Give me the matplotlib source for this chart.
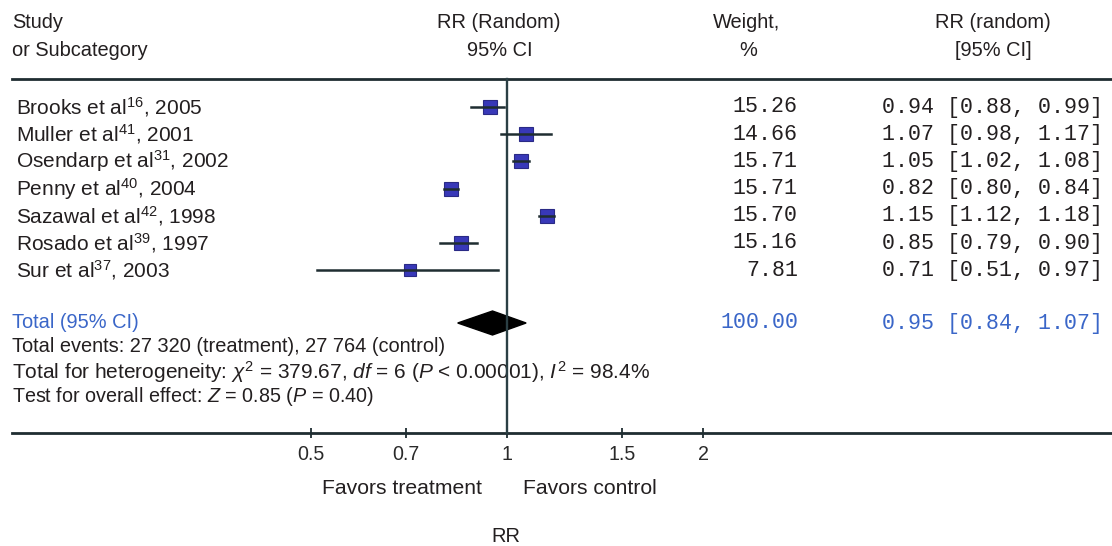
import numpy as np
import matplotlib
matplotlib.use("Agg")
import matplotlib.pyplot as plt
from matplotlib.patches import Polygon

# ── Data ─────────────────────────────────────────────────────────────────────
authors = ["Brooks", "Muller", "Osendarp", "Penny", "Sazawal", "Rosado", "Sur"]
refs = ["16", "41", "31", "40", "42", "39", "37"]
years = ["2005", "2001", "2002", "2004", "1998", "1997", "2003"]
rr = [0.94, 1.07, 1.05, 0.82, 1.15, 0.85, 0.71]
ci_lo = [0.88, 0.98, 1.02, 0.80, 1.12, 0.79, 0.51]
ci_hi = [0.99, 1.17, 1.08, 0.84, 1.18, 0.90, 0.97]
weights = [15.26, 14.66, 15.71, 15.71, 15.70, 15.16, 7.81]

total_rr = 0.95
total_lo = 0.84
total_hi = 1.07
total_weight = 100.00

xticks = [0.5, 0.7, 1, 1.5, 2]
xtick_labels = ["0.5", "0.7", "1", "1.5", "2"]

# ── Layout (pixels) ──────────────────────────────────────────────────────────
W, H = 1112, 546
X_ONE = 507          # pixel x of RR = 1
K = 282.8            # pixels per ln unit
ROW0, DROW = 107, 27.2
Y_TOP_LINE, Y_AXIS = 79, 433
Y_TOTAL = 323

DARK = "#231f20"
LINE = "#1f2d31"
BLUE = "#3a66c8"
SQ_FILL = "#3838b8"
SQ_EDGE = "#2a2a85"

plt.rcParams.update({
    "font.family": ["Liberation Sans", "DejaVu Sans"],
    "mathtext.fontset": "custom",
    "mathtext.rm": "Liberation Sans",
    "mathtext.it": "Liberation Sans:italic",
    "mathtext.bf": "Liberation Sans:bold",
})
SANS = 14.4
MONO = 15.6


def px2rr(x):
    return np.exp((x - X_ONE) / K)


fig = plt.figure(figsize=(W / 100, H / 100), dpi=100)
ax = fig.add_axes([0, 0, 1, 1])
ax.set_xscale("log")
ax.set_xlim(px2rr(0), px2rr(W))
ax.set_ylim(H, 0)
for s in ["top", "left", "right"]:
    ax.spines[s].set_visible(False)
ax.set_yticks([])
ax.minorticks_off()

# x axis drawn as the bottom spine, moved up
ax.spines["bottom"].set_position(("data", Y_AXIS))
ax.spines["bottom"].set_bounds(px2rr(12), px2rr(W))
ax.spines["bottom"].set_linewidth(2.0)
ax.spines["bottom"].set_color(LINE)
ax.set_xticks(xticks)
ax.set_xticklabels(xtick_labels)
ax.tick_params(axis="x", direction="inout", length=7, width=1.3, color=LINE,
               labelsize=SANS - 0.3, labelcolor="#2a2a2a", pad=5)
ax.xaxis.set_minor_locator(matplotlib.ticker.NullLocator())

# header line and vertical line of no effect
ax.axhline(Y_TOP_LINE, xmin=12 / W, xmax=1, color=LINE, lw=2.0)
ax.plot([1, 1], [Y_TOP_LINE, Y_AXIS], color="#2b3f44", lw=1.7, zorder=4)

T = ax.get_yaxis_transform()  # x in axes fraction, y in pixels


def txt(x, y, s, **kw):
    kw.setdefault("fontsize", SANS)
    kw.setdefault("color", DARK)
    kw.setdefault("va", "center")
    ax.text(x / W, y, s, transform=T, **kw)


# headers
txt(12, 23, "Study")
txt(12, 50, "or Subcategory")
txt(499, 23, "RR (Random)", ha="center")
txt(500, 50, "95% CI", ha="center")
txt(747, 23, "Weight,", ha="center")
txt(748, 50, "%", ha="center")
txt(993, 23, "RR (random)", ha="center")
txt(993, 50, "[95% CI]", ha="center")

# studies
w_max = max(weights)
for i, (a, r, yr) in enumerate(zip(authors, refs, years)):
    y = ROW0 + i * DROW
    txt(16, y, f"{a} et al$^{{{r}}}$, {yr}", fontsize=15.0)
    ms = 9.8 * (weights[i] / w_max) ** 0.25
    ax.plot(rr[i], y, marker="s", ms=ms, mfc=SQ_FILL, mec=SQ_EDGE, mew=0.8,
            zorder=3)
    ax.plot([ci_lo[i], ci_hi[i]], [y, y], color=LINE, lw=1.8, zorder=5)
    txt(798, y, f"{weights[i]:.2f}", ha="right", family="Liberation Mono",
        fontsize=MONO)
    txt(1103, y, f"{rr[i]:.2f} [{ci_lo[i]:.2f}, {ci_hi[i]:.2f}]", ha="right",
        family="Liberation Mono", fontsize=MONO)

# pooled estimate
dh = 12
diamond = Polygon([(total_lo, Y_TOTAL), (total_rr, Y_TOTAL - dh),
                   (total_hi, Y_TOTAL), (total_rr, Y_TOTAL + dh)],
                  closed=True, fc="black", ec="black", zorder=3)
ax.add_patch(diamond)
txt(12, Y_TOTAL - 1, "Total (95% CI)", color=BLUE)
txt(798, Y_TOTAL, f"{total_weight:.2f}", ha="right", family="Liberation Mono",
    fontsize=MONO, color=BLUE)
txt(1103, Y_TOTAL, f"{total_rr:.2f} [{total_lo:.2f}, {total_hi:.2f}]",
    ha="right", family="Liberation Mono", fontsize=MONO, color=BLUE)

txt(12, 347, "Total events: 27 320 (treatment), 27 764 (control)")
txt(12, 372, r"Total for heterogeneity: $\chi^2$ = 379.67, $\mathit{df}$ = 6 "
             r"($\mathit{P}$ < 0.00001), $\mathit{I}^2$ = 98.4%", fontsize=15.0)
txt(12, 396, r"Test for overall effect: $\mathit{Z}$ = 0.85 ($\mathit{P}$ = 0.40)",
    fontsize=14.2)

# footer labels
txt(482, 488, "Favors treatment", ha="right", fontsize=15.2)
txt(523, 488, "Favors control", ha="left", fontsize=15.2)
txt(506, 537, "RR", ha="center")

fig.savefig("out.png", dpi=100)
